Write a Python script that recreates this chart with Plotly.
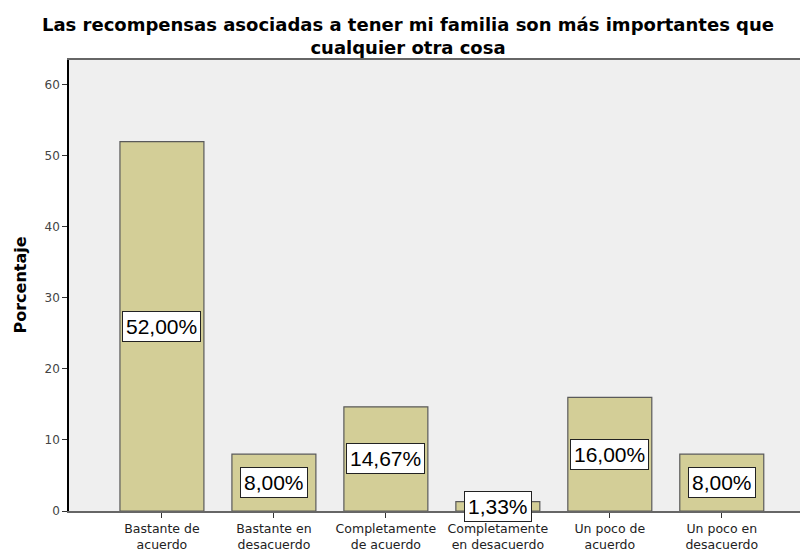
import plotly.graph_objects as go

categories = ["Bastante de<br>acuerdo", "Bastante en<br>desacuerdo", "Completamente<br>de acuerdo",
              "Completamente<br>en desacuerdo", "Un poco de<br>acuerdo", "Un poco en<br>desacuerdo"]
values = [52.00, 8.00, 14.67, 1.33, 16.00, 8.00]
labels = ["52,00%", "8,00%", "14,67%", "1,33%", "16,00%", "8,00%"]
y_ticks = [0, 10, 20, 30, 40, 50, 60]

fig = go.Figure()
fig.add_trace(go.Bar(
    x=list(range(len(categories))), y=values, width=0.75,
    marker=dict(color="#d3ce97", line=dict(color="#5a5a5a", width=1.2)),
    hoverinfo="skip",
))

for i, (v, t) in enumerate(zip(values, labels)):
    fig.add_annotation(x=i, y=v / 2, text=t, showarrow=False,
                       font=dict(family="Liberation Sans, Arial", size=21, color="black"),
                       bgcolor="white", bordercolor="#222", borderwidth=1, borderpad=3)

fig.add_annotation(xref="paper", yref="paper", x=-0.0663, y=0.5, text="<b>Porcentaje</b>",
                   textangle=-90, showarrow=False, xanchor="center", yanchor="middle",
                   font=dict(family="DejaVu Sans", size=16, color="black"))

fig.update_layout(
    width=800, height=544,
    margin=dict(l=61, r=0, t=52, b=38),
    paper_bgcolor="white", plot_bgcolor="#efefef",
    showlegend=False,
    title=dict(text="<b>Las recompensas asociadas a tener mi familia son más importantes que<br>cualquier otra cosa</b>",
               x=0.5, xanchor="center", y=0.958, yanchor="top",
               font=dict(family="DejaVu Sans", size=18, color="black")),
    xaxis=dict(range=[-0.83, 5.77], tickmode="array", tickvals=list(range(len(categories))),
               ticktext=categories, ticks="outside", ticklen=5, tickcolor="#333",
               showline=True, linecolor="#666", linewidth=1.5, mirror=True,
               showgrid=False, zeroline=False,
               tickfont=dict(family="DejaVu Sans", size=12.5, color="#222")),
    yaxis=dict(range=[0, 63.5], tickvals=y_ticks, ticks="outside", ticklen=5, tickcolor="#333",
               showline=True, linecolor="black", linewidth=1.5,
               showgrid=False, zeroline=False,
               tickfont=dict(family="DejaVu Sans", size=12, color="#444")),
)

fig.write_html("out.html")
